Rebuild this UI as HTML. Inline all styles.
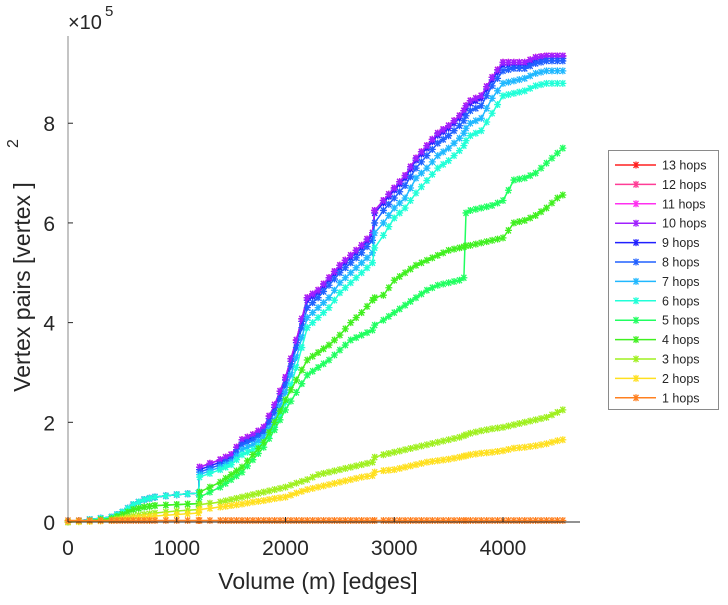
<!DOCTYPE html>
<html><head><meta charset="utf-8"><style>
body{margin:0;background:#fff;}
svg text{font-family:"Liberation Sans",sans-serif;fill:#262626;}
</style></head><body>
<svg id="chart" width="728" height="600" xmlns="http://www.w3.org/2000/svg">
<g id="marks"></g>
<g id="axes"></g>
<g id="legend"></g>
</svg>
<script>
const xValues=[0,200,400,500,600,700,800,1000,1200,1210,1400,1500,1600,1700,1800,1900,2000,2100,2200,2300,2400,2500,2600,2700,2800,2820,2900,3000,3100,3200,3300,3400,3500,3600,3640,3660,3700,3800,3900,4000,4100,4200,4300,4400,4500,4550];
const hops10=[0,0.5,1,2,3.5,4.5,5,5.5,5.8,11,12.5,13.5,16.5,17.5,19,23.5,29,36.5,45,46.5,49,51.5,53.5,55.5,58,62.5,64.5,67,69.5,73,75.5,78,79.5,81.5,82.5,83.5,84.5,85.5,89.2,92.2,92.2,92.2,93.2,93.5,93.5,93.5];
const hops9=[0,0.5,1,2,3.5,4.5,5,5.5,5.8,10.5,12,13,16,17,18.5,23,28.5,36,44.5,46,48.5,51,53,55,57.6,62,64,66.6,69,72.6,75,77.6,79,81,82,83,84,85,88.7,91.7,91.7,91.7,92.7,93,93,93];
const hops8=[0,0.5,1,2,3.5,4.5,5,5.5,5.8,10,11.5,12.5,15.5,16.5,18,22,27.5,35,43,45,47.5,50,52,54,56.5,60,62.5,65,67.5,71,73.5,76,77.5,79.5,80.5,81.5,82.5,83.5,87.5,90.5,91,91,92,92.5,92.5,92.5];
const hops7=[0,0.5,1,2,3.5,4.5,5,5.5,5.8,9.5,11,12,14.5,15.5,17,20.5,26,33,41,43,45,48,50,52,54,58,60,63,65,69,71,73.5,75,77,78,79,80,81,85,88,88.5,89,90,90.5,90.5,90.5];
const hops6=[0,0.5,1,2,3.5,4.5,5,5.5,5.8,9,10.5,11.5,13.5,14.5,16,19,24,31,39,41,43,46,48,50,52,55,57.5,61,63,66,68.5,71,72.5,74.5,75.5,76.5,77.5,78.5,82,85.5,86,86.5,87.5,88,88,88];
const hops5=[0,0.3,0.7,1.5,2.5,3,3.3,3.5,3.7,5,7,8.5,10,12.5,15,18.5,22.5,26,29.5,31,32.5,34.5,36.5,37.5,38.5,39.5,40.5,42,43.5,45,46.5,47.5,48,48.5,49,62,62.5,63,63.5,64.5,68.6,69,70,72,74,75];
const hops4=[0,0.3,0.7,1.5,2.5,3,3.3,3.5,3.7,6,8,9.5,11,13.5,16,20,24.5,28.5,32.5,34,35.5,37.5,40,42,44.5,45,45.5,48.5,50,51.5,52.5,53.5,54.5,55,55.2,55.4,55.5,56,56.5,57,60,60.5,61.5,63,65,65.6];
const hops3=[0,0.2,0.4,0.8,1.2,1.5,1.8,2.2,2.5,3.5,4,4.5,5,5.5,6,6.5,7,7.8,8.5,9.5,10,10.5,11,11.5,12,13,13.5,14,14.5,15,15.5,16,16.5,17,17.3,17.5,17.8,18.3,18.7,19,19.5,20,20.5,21,22,22.5];
const hops2=[0,0.1,0.3,0.5,0.8,1,1.2,1.5,1.8,2.5,3,3.3,3.6,4,4.3,4.7,5,5.8,6.5,7,7.5,8,8.5,9,9.3,10,10.3,10.5,11,11.5,12,12.3,12.6,13,13.2,13.3,13.5,13.8,14,14.3,14.8,15,15.3,15.7,16.3,16.5];
const hops1=xValues.map(()=>0.3);
const hops11=hops10.slice(),hops12=hops10.slice(),hops13=hops10.slice();
const seriesNames=["13 hops","12 hops","11 hops","10 hops","9 hops","8 hops","7 hops","6 hops","5 hops","4 hops","3 hops","2 hops","1 hops"];
const seriesData=[hops13,hops12,hops11,hops10,hops9,hops8,hops7,hops6,hops5,hops4,hops3,hops2,hops1];
const seriesColors=["#ff2020","#ff3c96","#ff30f0","#a020ff","#2020ff","#2060ff","#20b8ff","#20ffd8","#20ff60","#40f020","#a0f020","#ffe020","#ff8020"];
const xTicks=[0,1000,2000,3000,4000];
const yTicks=[0,2,4,6,8];

const NS="http://www.w3.org/2000/svg";
const X0=68,X1=580,Y0=522,Y1=36,XMAX=4708,YMAX=97.5;
const sx=v=>X0+v/XMAX*(X1-X0);
const sy=v=>Y0-v/YMAX*(Y0-Y1);
function mk(tag,attrs,parent){const e=document.createElementNS(NS,tag);for(const k in attrs)e.setAttribute(k,attrs[k]);parent.appendChild(e);return e;}
function star(x,y,c,parent){
  const d=`M${x-3.5} ${y}H${x+3.5}M${x-2.5} ${y-3}L${x+2.5} ${y+3}M${x-2.5} ${y+3}L${x+2.5} ${y-3}M${x} ${y-3.5}V${y+3.5}`;
  return mk('path',{d:d,stroke:c,'stroke-width':1.3,fill:'none'},parent);
}
const marks=document.getElementById('marks');
const drawOrder=[0,1,2,4,3,5,6,7,8,9,10,11,12];
drawOrder.forEach(i=>{
  const vals=seriesData[i];
  const g=mk('g',{},marks);
  
  
  const pts=vals.map((v,j)=>sx(xValues[j]).toFixed(1)+','+sy(v).toFixed(1)).join(' ');
  mk('polyline',{points:pts,fill:'none',stroke:seriesColors[i],'stroke-width':1.5},g);
  vals.forEach((v,j)=>{
    star(sx(xValues[j]),sy(v),seriesColors[i],g);
    if(j<vals.length-1){const xm=(xValues[j]+xValues[j+1])/2,vm=(v+vals[j+1])/2;
      if(xValues[j+1]-xValues[j]>=100) star(sx(xm),sy(vm),seriesColors[i],g);}
  });
});
const axes=document.getElementById('axes');
const ax=mk('line',{x1:X0,y1:Y0,x2:X1,y2:Y0,stroke:'#262626','stroke-width':1},axes);

const ay=mk('line',{x1:X0,y1:Y0,x2:X0,y2:Y1,stroke:'#8a8a8a','stroke-width':1},axes);

xTicks.forEach(t=>{
  mk('line',{x1:sx(t),y1:Y0,x2:sx(t),y2:Y0-5,stroke:'#262626'},axes);
  const tx=mk('text',{x:sx(t),y:Y0+33,'text-anchor':'middle','font-size':21},axes);tx.textContent=t;
  
});
yTicks.forEach(t=>{
  mk('line',{x1:X0,y1:sy(t*10),x2:X0+5,y2:sy(t*10),stroke:'#262626'},axes);
  const tx=mk('text',{x:X0-13,y:sy(t*10)+8,'text-anchor':'end','font-size':21},axes);tx.textContent=t;
  
});
</script>
<svg style="position:absolute;left:0;top:0" width="728" height="600">
<text x="68" y="29" font-size="20" style="font-family:'Liberation Sans',sans-serif;fill:#262626">×10</text>
<text x="105" y="16" font-size="15" style="font-family:'Liberation Sans',sans-serif;fill:#262626">5</text>
<text x="318" y="589" text-anchor="middle" font-size="23" style="font-family:'Liberation Sans',sans-serif;fill:#262626">Volume (m) [edges]</text>
<text transform="translate(30,287) rotate(-90)" text-anchor="middle" font-size="23" style="font-family:'Liberation Sans',sans-serif;fill:#262626">Vertex pairs [vertex     ]</text>
<text transform="translate(18,148) rotate(-90)" font-size="16" style="font-family:'Liberation Sans',sans-serif;fill:#262626">2</text>
</svg>
<svg style="position:absolute;left:0;top:0" width="728" height="600" id="leg">
<rect x="608.5" y="150.5" width="110" height="259" fill="#fff" stroke="#8a8a8a"/>
</svg>
<script>
(function(){
  const leg=document.getElementById('leg');
  seriesNames.forEach((n,i)=>{
    const y=165+i*19.4;
    const g=document.createElementNS(NS,'g');leg.appendChild(g);
    
    
    mk('line',{x1:615,y1:y,x2:656,y2:y,stroke:seriesColors[i],'stroke-width':1.5},g);
    star(636,y,seriesColors[i],g);
    const t=mk('text',{x:662,y:y+4.5,'font-size':12.5,style:"font-family:'Liberation Sans',sans-serif;fill:#262626"},g);
    t.textContent=n;
  });
})();
</script>
</body></html>
